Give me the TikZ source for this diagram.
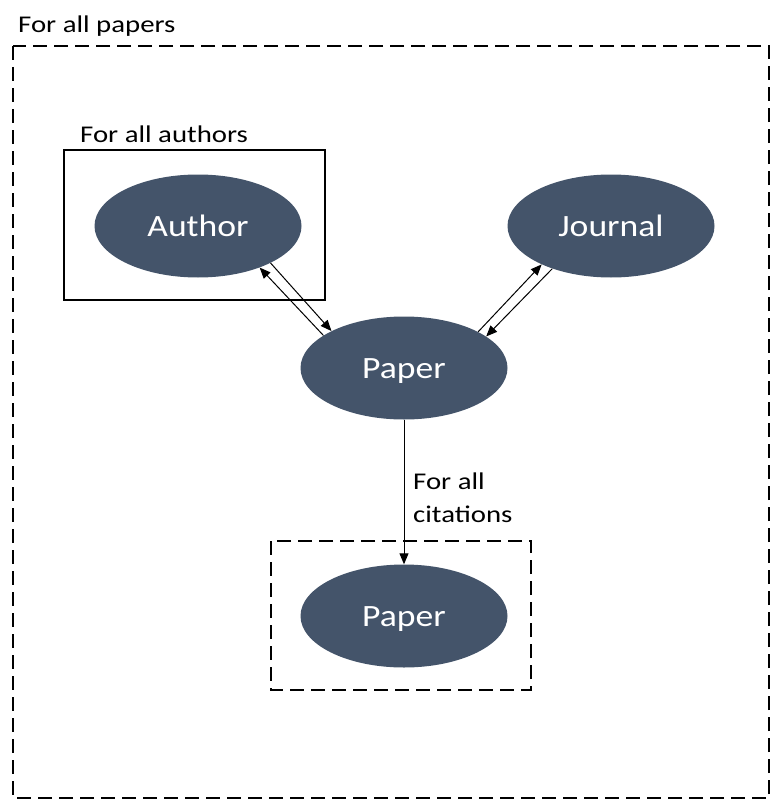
\documentclass[tikz,border=0pt]{standalone}
\usepackage{fontspec}
\setmainfont{Carlito}
\newfontfamily\lblfont[FakeStretch=1.2]{Carlito}
\newfontfamily\ndfont[FakeStretch=1.15]{Carlito}
\usetikzlibrary{shapes.geometric,arrows.meta}
\definecolor{nodefill}{HTML}{44546A}
\begin{document}
\begin{tikzpicture}[x=1pt,y=-1pt,
  entity/.style={ellipse,fill=nodefill,draw=none,minimum width=207pt,minimum height=103pt,inner sep=0pt,
    text=white,font=\ndfont\fontsize{31}{31}\selectfont,text height=20pt,text depth=0pt},
  lbl/.style={anchor=base west,inner sep=0pt,font=\lblfont\fontsize{24}{24}\selectfont},
  dbox/.style={draw=black,line width=2pt,dash pattern=on 14pt off 7pt},
  sbox/.style={draw=black,line width=2pt},
  conn/.style={draw=black,line width=1pt,-{Triangle[length=11pt,width=9pt]}}
]
\useasboundingbox (0,0) rectangle (771,800);
% frames
\draw[dbox] (13,46) rectangle (769,798);
\draw[sbox] (64,150) rectangle (325,300);
\draw[dbox] (271,541) rectangle (531,690);
% labels
\node[lbl] (lpapers) at (18,33) {For all papers};
\node[lbl] (lauthors) at (80,142) {For all authors};
\node[lbl] (lcit1) at (413,489) {For all};
\node[lbl] (lcit2) at (413,522) {citations};
% entities
\node[entity] (author) at (198,226) {Author};
\node[entity] (journal) at (611,226) {Journal};
\node[entity] (paper) at (404,368) {Paper};
\node[entity] (cited) at (404,616) {Paper};
% connectors
\draw[conn] (author.-27.5) -- (paper.153.4);
\draw[conn] (paper.158.7) -- (author.-34);
\draw[conn] (paper.26.3) -- (journal.-151.7);
\draw[conn] (journal.-144) -- (paper.21.3);
\draw[conn] (paper.south) -- (cited.north);
\end{tikzpicture}
\end{document}
